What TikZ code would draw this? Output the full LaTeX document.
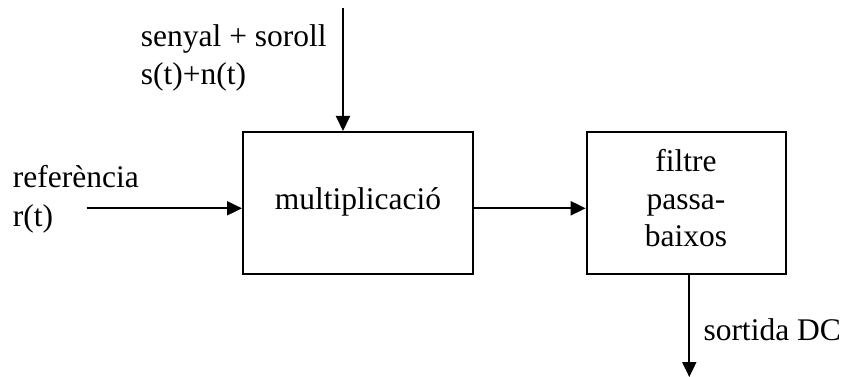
\documentclass[tikz,border=0pt]{standalone}
\usepackage{fontspec}
\setmainfont{Liberation Serif}
\usetikzlibrary{arrows.meta}
\begin{document}
\begin{tikzpicture}[x=1pt,y=-1pt,
  blockbox/.style={draw,line width=2pt,inner sep=0pt},
  lbl/.style={inner sep=0pt,anchor=base west,font=\fontsize{31.5}{38}\selectfont},
  ctr/.style={inner sep=0pt,anchor=base,font=\fontsize{31.5}{38}\selectfont},
  conn/.style={line width=2pt,-{Triangle[length=15pt,width=14pt]}}]
\useasboundingbox (0,0) rectangle (844,377);
\node[blockbox,minimum width=230pt,minimum height=142pt] (mult) at (358,203) {};
\node[blockbox,minimum width=199pt,minimum height=142pt] (filt) at (686.2,203) {};
\node[ctr] (multt) at (358,210) {multiplicació};
\node[ctr] (f1) at (686,171.7) {filtre};
\node[ctr] (f2) at (686,210) {passa-};
\node[ctr] (f3) at (686,247) {baixos};
\node[lbl] (s1) at (140.7,46.7) {senyal + soroll};
\node[lbl] (s2) at (140.7,85) {s(t)+n(t)};
\node[lbl] (r1) at (12.7,188) {referència};
\node[lbl] (r2) at (12.7,226) {r(t)};
\node[lbl] (out) at (703.3,340) {sortida DC};
\coordinate (top) at (343,8);
\coordinate (left) at (86.7,208.3);
\coordinate (bot) at (689.3,377);
\draw[conn] (top) -- (top |- mult.north);
\draw[conn] (left) -- (left -| mult.west);
\draw[conn] (mult.east |- left) -- (filt.west |- left);
\draw[conn] (bot |- filt.south) -- (bot);
\end{tikzpicture}
\end{document}
